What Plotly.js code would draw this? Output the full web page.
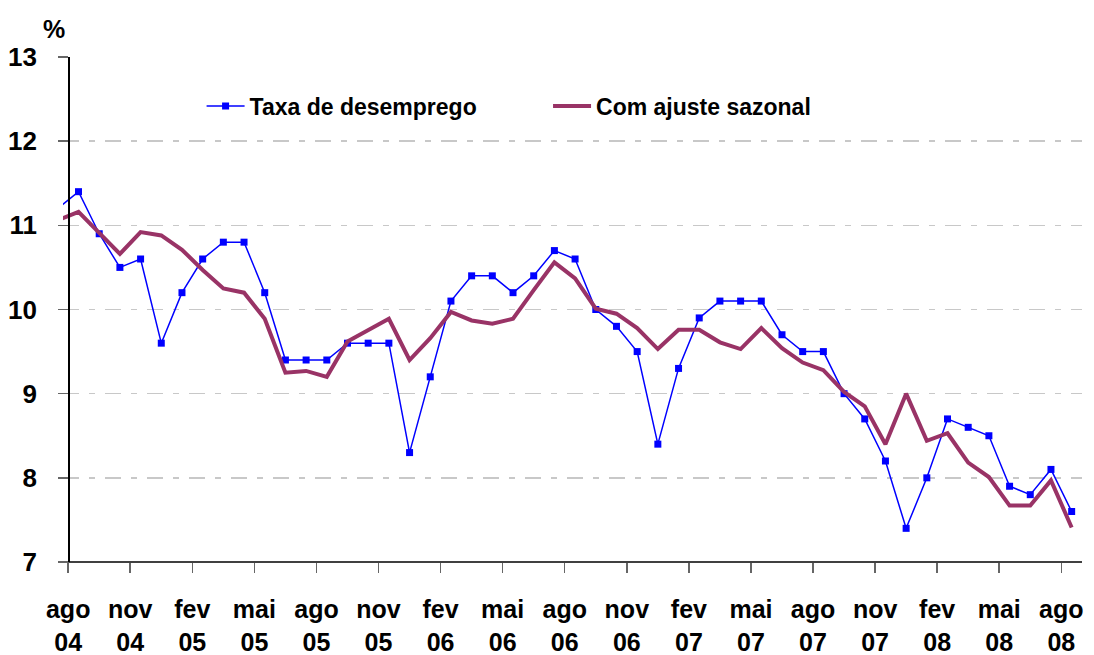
<!DOCTYPE html>
<html>
<head>
<meta charset="utf-8">
<script src="https://cdn.plot.ly/plotly-3.0.1.min.js"></script>
<style>html,body{margin:0;padding:0;background:#fff;}#chart{width:1094px;height:655px;}</style>
</head>
<body>
<div id="chart"></div>
<script>
// Monthly labels, jul 04 .. ago 08
const months = ["jul 04","ago 04","set 04","out 04","nov 04","dez 04","jan 05","fev 05","mar 05","abr 05","mai 05","jun 05","jul 05","ago 05","set 05","out 05","nov 05","dez 05","jan 06","fev 06","mar 06","abr 06","mai 06","jun 06","jul 06","ago 06","set 06","out 06","nov 06","dez 06","jan 07","fev 07","mar 07","abr 07","mai 07","jun 07","jul 07","ago 07","set 07","out 07","nov 07","dez 07","jan 08","fev 08","mar 08","abr 08","mai 08","jun 08","jul 08","ago 08"];

const taxa = [11.2,11.4,10.9,10.5,10.6,9.6,10.2,10.6,10.8,10.8,10.2,9.4,9.4,9.4,9.6,9.6,9.6,8.3,9.2,10.1,10.4,10.4,10.2,10.4,10.7,10.6,10.0,9.8,9.5,8.4,9.3,9.9,10.1,10.1,10.1,9.7,9.5,9.5,9.0,8.7,8.2,7.4,8.0,8.7,8.6,8.5,7.9,7.8,8.1,7.6];

const ajuste = [11.06,11.16,10.91,10.66,10.92,10.88,10.71,10.47,10.25,10.20,9.89,9.25,9.27,9.20,9.62,9.76,9.89,9.40,9.66,9.97,9.87,9.83,9.89,10.23,10.56,10.37,10.01,9.95,9.78,9.53,9.76,9.76,9.61,9.53,9.78,9.54,9.37,9.28,9.02,8.85,8.40,9.00,8.44,8.53,8.18,8.01,7.67,7.67,7.97,7.41];

const tickMonths = ["ago","nov","fev","mai","ago","nov","fev","mai","ago","nov","fev","mai","ago","nov","fev","mai","ago"];
const tickYears  = ["04","04","05","05","05","05","06","06","06","06","07","07","07","07","08","08","08"];

// category centres: jul 04 sits half a month before the "ago 04" boundary
const xpos = months.map((m, i) => i - 0.5);
const tickvals = tickMonths.map((m, i) => i * 3);

const FONT = "Liberation Sans, Arial, sans-serif";
const xmin = -0.25, xmax = 49;
const axisPos = (0 - xmin) / (xmax - xmin);

const traces = [
  {
    x: xpos, y: taxa, text: months, type: "scatter", mode: "lines+markers",
    name: "Taxa de desemprego",
    line: {color: "#0000FF", width: 1.5},
    marker: {symbol: "square", size: 7, color: "#0000FF"},
    legend: "legend"
  },
  {
    x: xpos, y: ajuste, text: months, type: "scatter", mode: "lines",
    name: "Com ajuste sazonal",
    line: {color: "#993366", width: 4},
    legend: "legend2"
  },
  {
    x: tickvals, y: tickvals.map(() => null), xaxis: "x2", yaxis: "y",
    type: "scatter", mode: "markers", showlegend: false, hoverinfo: "skip"
  }
];

const layout = {
  width: 1094, height: 655,
  margin: {l: 63, r: 12, t: 57, b: 93},
  paper_bgcolor: "#fff", plot_bgcolor: "rgba(0,0,0,0)",
  font: {family: FONT, color: "#000"},
  showlegend: true,
  xaxis: {
    range: [xmin, xmax], tickmode: "array", tickvals: tickvals, ticktext: tickMonths,
    ticks: "outside", ticklen: 10, tickwidth: 1.5, tickcolor: "#666",
    showline: false, showgrid: false, zeroline: false,
    tickfont: {family: FONT, size: 25, weight: "bold", color: "#000"},
    ticklabelstandoff: 15, fixedrange: true
  },
  xaxis2: {
    overlaying: "x", anchor: "y", side: "bottom", matches: "x",
    range: [xmin, xmax], tickmode: "array", tickvals: tickvals, ticktext: tickYears,
    ticks: "", showline: false, showgrid: false, zeroline: false,
    tickfont: {family: FONT, size: 25, weight: "bold", color: "#000"},
    ticklabelstandoff: 63
  },
  yaxis: {
    range: [7, 13], dtick: 1, tick0: 7, anchor: "free", position: axisPos,
    showline: true, linecolor: "#000", linewidth: 1.5,
    ticks: "outside", ticklen: 10, tickwidth: 1.5, tickcolor: "#666",
    showgrid: true, gridcolor: "#C8C8C8", gridwidth: 1.5, griddash: "16px,10px,6px,10px",
    zeroline: false,
    tickfont: {family: FONT, size: 26, weight: "bold", color: "#000"},
    ticklabelstandoff: 16
  },
  legend: {
    orientation: "h", x: 0.136, xanchor: "left", y: 0.903, yanchor: "middle",
    bgcolor: "rgba(0,0,0,0)", font: {family: FONT, size: 23, weight: "bold", color: "#000"},
    itemwidth: 38
  },
  legend2: {
    orientation: "h", x: 0.476, xanchor: "left", y: 0.903, yanchor: "middle",
    bgcolor: "rgba(0,0,0,0)", font: {family: FONT, size: 23, weight: "bold", color: "#000"},
    itemwidth: 38
  },
  shapes: [
    {type: "line", xref: "paper", yref: "paper", x0: axisPos, x1: 1, y0: 0, y1: 0,
     line: {color: "#000", width: 1.5}}
  ],
  annotations: [
    {text: "%", xref: "paper", yref: "paper", x: -0.009, y: 1.055, showarrow: false,
     xanchor: "center", yanchor: "middle",
     font: {family: FONT, size: 25, weight: "bold", color: "#000"}}
  ]
};

Plotly.newPlot("chart", traces, layout, {displayModeBar: false, staticPlot: true});
</script>
</body>
</html>
